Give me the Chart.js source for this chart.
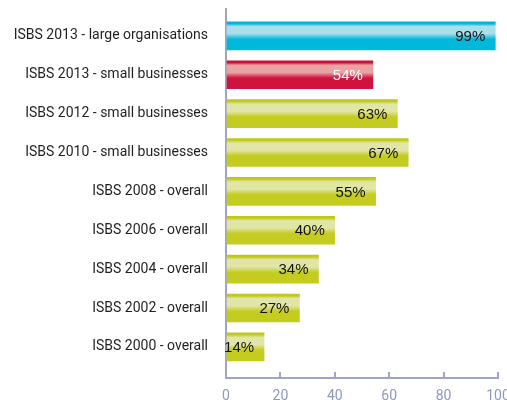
<!DOCTYPE html>
<html>
<head>
<meta charset="utf-8">
<script src="https://cdn.jsdelivr.net/npm/chart.js@4"></script>
<style>
  html, body { margin: 0; padding: 0; background: #fff; overflow: hidden; }
  #wrap { width: 520px; height: 400px; }
</style>
</head>
<body>
<div id="wrap"><canvas id="myChart"></canvas></div>
<script>
var categories = [
  "ISBS 2013 - large organisations",
  "ISBS 2013 - small businesses",
  "ISBS 2012 - small businesses",
  "ISBS 2010 - small businesses",
  "ISBS 2008 - overall",
  "ISBS 2006 - overall",
  "ISBS 2004 - overall",
  "ISBS 2002 - overall",
  "ISBS 2000 - overall"
];
var percentages = [99, 54, 63, 67, 55, 40, 34, 27, 14];
var xTicks = [0, 20, 40, 60, 80, 100];

// bar shading: [edge, light band, body]
var shades = {
  cyan:  ["#00b3d3", "#aadeeb", "#00b9da"],
  red:   ["#c80e3c", "#e9a3a2", "#d0123f"],
  green: ["#bcc419", "#e1e5a6", "#c4cc20"]
};
var barShade = ["cyan", "red", "green", "green", "green", "green", "green", "green", "green"];
var labelColor = ["#111", "#fff", "#111", "#111", "#111", "#111", "#111", "#111", "#111"];

var axisColor = "#9ea5c8";

function barFill(c) {
  var chart = c.chart;
  var s = shades[barShade[c.dataIndex]];
  if (!chart.chartArea) return s[2];
  var y = chart.scales.y.getPixelForValue(c.dataIndex);
  var g = chart.ctx.createLinearGradient(0, y - 14, 0, y + 14);
  g.addColorStop(0, s[0]);
  g.addColorStop(0.07, s[2]);
  g.addColorStop(0.16, s[1]);
  g.addColorStop(0.42, s[1]);
  g.addColorStop(0.62, s[2]);
  g.addColorStop(1, s[2]);
  return g;
}

var valueLabels = {
  id: "valueLabels",
  afterDatasetsDraw: function(chart) {
    var ctx = chart.ctx;
    var meta = chart.getDatasetMeta(0);
    ctx.save();
    ctx.font = "15px 'Liberation Sans', Arial, sans-serif";
    ctx.textAlign = "right";
    ctx.textBaseline = "middle";
    meta.data.forEach(function(bar, i) {
      ctx.fillStyle = labelColor[i];
      ctx.fillText(percentages[i] + "%", bar.x - 10, bar.y + 1);
    });
    ctx.restore();
  }
};

var points = percentages.map(function(v, i) { return {x: v, y: i}; });

var ctx = document.getElementById("myChart").getContext("2d");
var myChart = new Chart(ctx, {
  type: "bar",
  data: {
    datasets: [{
      data: points,
      backgroundColor: barFill,
      borderWidth: 0,
      barThickness: 28
    }]
  },
  plugins: [valueLabels],
  options: {
    indexAxis: "y",
    responsive: true,
    maintainAspectRatio: false,
    animation: false,
    layout: { padding: { left: 8, right: 22, top: 9, bottom: 0 } },
    plugins: { legend: { display: false }, tooltip: { enabled: false } },
    scales: {
      y: {
        type: "linear",
        reverse: true,
        offset: false,
        min: -0.69,
        max: 8.8,
        afterFit: function(scale) {
          scale.width = 218;
          scale.paddingTop = 0;
          scale.paddingBottom = 0;
        },
        grid: { display: false, drawTicks: false, offset: false },
        border: { display: true, color: axisColor, width: 2 },
        ticks: {
          stepSize: 1,
          autoSkip: false,
          includeBounds: false,
          padding: 18,
          color: "#1f1f1f",
          font: { family: "Roboto, sans-serif", size: 14 },
          callback: function(v) { return Number.isInteger(v) ? (categories[v] || "") : ""; }
        }
      },
      x: {
        type: "linear",
        min: 0,
        max: 100,
        afterBuildTicks: function(scale) { scale.ticks = xTicks.map(function(v) { return {value: v}; }); },
        afterFit: function(scale) {
          scale.height = 22;
          scale.paddingLeft = 0;
          scale.paddingRight = 0;
        },
        grid: { drawOnChartArea: false, drawTicks: true, tickLength: -6, color: axisColor, lineWidth: 2 },
        border: { display: true, color: axisColor, width: 2 },
        ticks: {
          padding: 16,
          color: "#8e98bb",
          font: { family: "Roboto, sans-serif", size: 14 }
        }
      }
    }
  }
});
</script>
</body>
</html>
